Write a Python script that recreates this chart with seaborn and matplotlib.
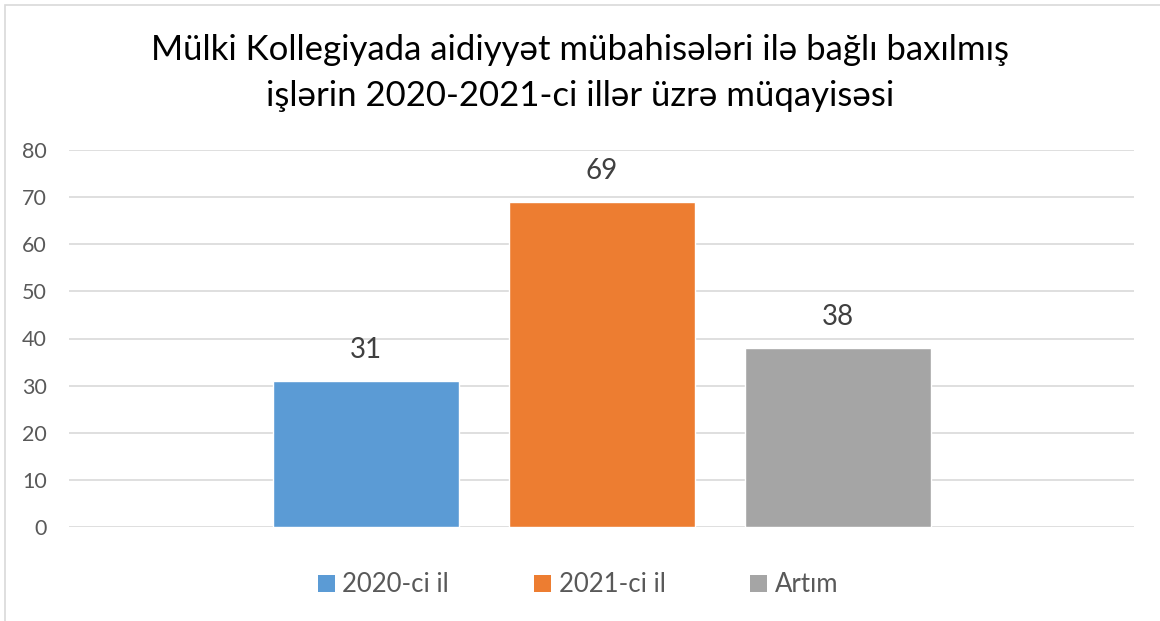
import matplotlib
matplotlib.use("Agg")
import matplotlib.pyplot as plt
import seaborn as sns
from matplotlib.patches import Patch, Rectangle

categories = ["2020-ci il", "2021-ci il", "Artım"]
values = [31, 69, 38]
colors = ["#5B9BD5", "#ED7D31", "#A5A5A5"]
title = "Mülki Kollegiyada aidiyyət mübahisələri ilə bağlı baxılmış\nişlərin 2020-2021-ci illər üzrə müqayisəsi"
yticks = [0, 10, 20, 30, 40, 50, 60, 70, 80]

sns.set_theme(style="white")
plt.rcParams['font.family'] = ['Lato', 'DejaVu Sans']

fig = plt.figure(figsize=(11.6, 6.21), dpi=100)
ax = fig.add_axes([69/1160, 1-527/621, (1134-69)/1160, (527-150)/621])

sns.barplot(x=categories, y=values, hue=categories, palette=colors,
            width=0.788, legend=False, ax=ax, saturation=1)

ax.set_xlim(-1.258, 3.256)
ax.set_ylim(0, 80)
ax.set_yticks(yticks)
ax.set_yticklabels([str(t) for t in yticks], color="#595959", fontsize=15.5)
ax.set_xticks([])
ax.set_xlabel("")
ax.set_ylabel("")
ax.tick_params(axis='y', length=0, pad=16)
ax.yaxis.grid(True, color="#D9D9D9", linewidth=1.2)
ax.set_axisbelow(True)
for s in ax.spines.values():
    s.set_visible(False)

for c in ax.containers:
    ax.bar_label(c, fmt="%d", padding=13, fontsize=20, color="#404040")

fig.text(0.5, 1-73/621, title, ha="center", va="center", fontsize=25,
         color="#000000", linespacing=1.5)

handles = [Patch(facecolor=c, edgecolor='none') for c in colors]
fig.legend(handles, categories, loc="center", bbox_to_anchor=(578/1160, 1-585/621),
           ncol=3, frameon=False, fontsize=18.5, labelcolor="#595959",
           handlelength=0.66, handleheight=0.66, handletextpad=0.3,
           columnspacing=3.3)

fig.patches.append(Rectangle((5/1160, -0.1), 1.2, 1 - 5/621 + 0.1,
                             transform=fig.transFigure, fill=False,
                             edgecolor="#D9D9D9", linewidth=1.2))

fig.savefig("out.png", dpi=100, facecolor="white")
